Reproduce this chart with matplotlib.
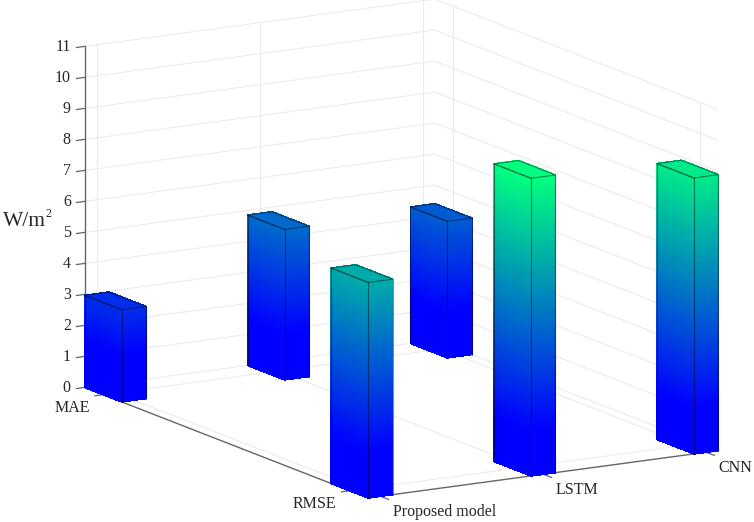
import numpy as np
import matplotlib
matplotlib.use("Agg")
import matplotlib.pyplot as plt
from matplotlib.colors import Normalize
from mpl_toolkits.mplot3d import proj3d
from mpl_toolkits.mplot3d.art3d import Poly3DCollection

plt.rcParams['font.family'] = ['Liberation Serif', 'DejaVu Serif']

metrics = ['MAE', 'RMSE']
models = ['Proposed model', 'LSTM', 'CNN']
mae_values = [2.97, 4.85, 4.4]
rmse_values = [6.95, 9.6, 8.9]
z_ticks = list(range(0, 12))

bar_w = 0.15
grid_col = '#ebebef'
axis_col = '#666666'
text_col = '#262626'

fig = plt.figure(figsize=(7.54, 5.22), dpi=100)
ax = fig.add_axes([-9.3 / 754, -137.3 / 522, 800 / 754, 800 / 522], projection='3d')
ax.set_proj_type('ortho')
ax.view_init(elev=13.27, azim=-30.5)
ax.set_box_aspect((558, 406, 350), zoom=0.94)
ax.computed_zorder = False
ax.set_xticks([])
ax.set_yticks([])
ax.set_zticks([])
ax.set_axis_off()

x0, x1 = 1 - bar_w / 2, 2 + bar_w / 2
y0, y1 = 1 - bar_w / 2, 3 + bar_w / 2
ax.set_xlim(x0, x1)
ax.set_ylim(y0, y1)
ax.set_zlim(0, 11)


def label(x, y, z, s, ha, size):
    # plain 2D text at the projected position of a 3D point
    px, py, _ = proj3d.proj_transform(x, y, z, ax.get_proj())
    ax.text2D(px, py, s, transform=ax.transData, ha=ha, va='center',
              fontsize=size, color=text_col)


# walls and floor
for z in z_ticks:
    ax.plot([x0, x0], [y0, y1], [z, z], color=grid_col, lw=0.8, zorder=1)
    ax.plot([x0, x1], [y1, y1], [z, z], color=grid_col, lw=0.8, zorder=1)
for j in range(len(models)):
    ax.plot([x0, x0], [j + 1, j + 1], [0, 11], color=grid_col, lw=0.8, zorder=1)
    ax.plot([x0, x1], [j + 1, j + 1], [0, 0], color=grid_col, lw=0.8, zorder=1)
for i in range(len(metrics)):
    ax.plot([i + 1, i + 1], [y1, y1], [0, 11], color=grid_col, lw=0.8, zorder=1)
    ax.plot([i + 1, i + 1], [y0, y1], [0, 0], color=grid_col, lw=0.8, zorder=1)

# axis lines and ticks
ax.plot([x0, x0], [y0, y0], [0, 11], color=axis_col, lw=1.0, zorder=2)
ax.plot([x0, x1], [y0, y0], [0, 0], color=axis_col, lw=1.0, zorder=2)
ax.plot([x1, x1], [y0, y1], [0, 0], color=axis_col, lw=1.0, zorder=2)
for z in z_ticks:
    ax.plot([x0, x0], [y0, y0 - 0.05], [z, z], color=axis_col, lw=0.9, zorder=2)
    label(x0, y0 - 0.085, z + 0.05, str(z), 'right', 11.5)
for i, name in enumerate(metrics):
    ax.plot([i + 1, i + 1], [y0, y0 - 0.05], [0, 0], color=axis_col, lw=0.9, zorder=2)
    label(i + 1, y0 - 0.08, -0.36, name, 'right', 11.5)
for j, name in enumerate(models):
    ax.plot([x1, x1 + 0.033], [j + 1, j + 1], [0, 0], color=axis_col, lw=0.9, zorder=2)
    label(x1 + 0.05, j + 1, -0.36, name, 'left', 11.5)

# bars, coloured by height
cmap = plt.get_cmap('winter')
norm = Normalize(vmin=1.5, vmax=9.6)
n = 0
for i, values in enumerate([mae_values, rmse_values]):
    for j, v in enumerate(values):
        a0, a1 = i + 1 - bar_w / 2, i + 1 + bar_w / 2
        b0, b1 = j + 1 - bar_w / 2, j + 1 + bar_w / 2
        levels = np.linspace(0, v, 90)
        polys, cols = [], []
        for lo, hi in zip(levels[:-1], levels[1:]):
            c = cmap(norm((lo + hi) / 2))
            polys.append([(a0, b0, lo), (a1, b0, lo), (a1, b0, hi), (a0, b0, hi)])
            polys.append([(a1, b0, lo), (a1, b1, lo), (a1, b1, hi), (a1, b0, hi)])
            cols += [c, c]
        polys.append([(a0, b0, v), (a1, b0, v), (a1, b1, v), (a0, b1, v)])
        cols.append(cmap(norm(v)))
        pc = Poly3DCollection(polys, facecolors=cols, edgecolors=cols, linewidths=0.5,
                              antialiased=False, zorder=3 + n)
        ax.add_collection3d(pc)
        edge = dict(color='black', alpha=0.45, lw=0.8, zorder=3.5 + n)
        ax.plot([a0, a1, a1, a0, a0, a1], [b0, b0, b1, b1, b0, b0], [v] * 6, **edge)
        ax.plot([a0, a0], [b0, b0], [0, v], **edge)
        ax.plot([a1, a1], [b0, b0], [0, v], **edge)
        ax.plot([a1, a1], [b1, b1], [0, v], **edge)
        n += 1

ax.set_xlim(x0, x1)
ax.set_ylim(y0, y1)
ax.set_zlim(0, 11)

fig.text(3 / 754, 1 - 226 / 522, 'W/m', fontsize=15.5, color=text_col,
         ha='left', va='baseline')
fig.text(45.5 / 754, 1 - 217 / 522, '2', fontsize=8.5, color=text_col,
         ha='left', va='baseline')

fig.savefig('out.png', dpi=100)
